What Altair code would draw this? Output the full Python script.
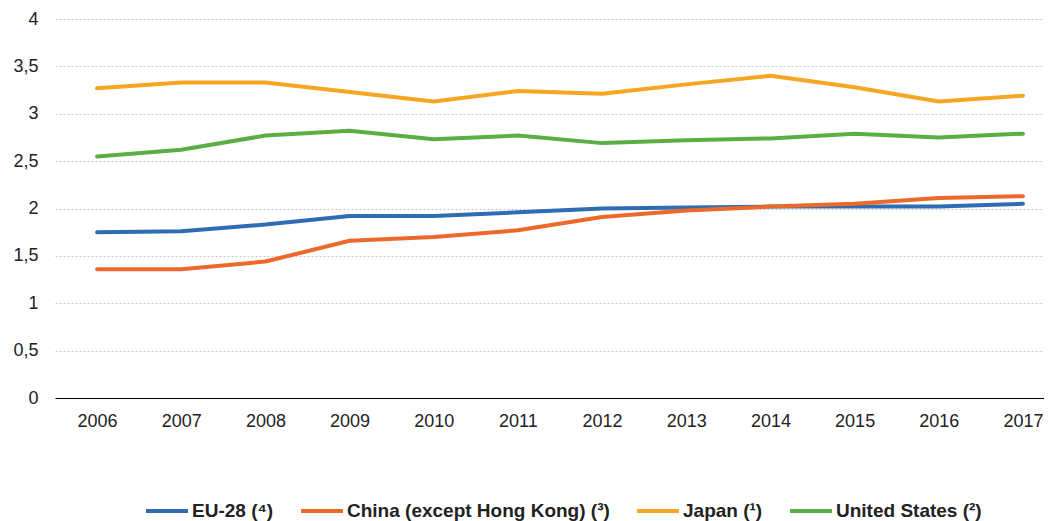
import altair as alt
import pandas as pd

years = list(range(2006, 2018))
series_names = ["EU-28 (⁴)", "China (except Hong Kong) (³)", "Japan (¹)", "United States (²)"]
eu28 = [1.75, 1.76, 1.83, 1.92, 1.92, 1.96, 2.00, 2.01, 2.02, 2.02, 2.02, 2.05]
china = [1.36, 1.36, 1.44, 1.66, 1.70, 1.77, 1.91, 1.98, 2.02, 2.05, 2.11, 2.13]
japan = [3.27, 3.33, 3.33, 3.23, 3.13, 3.24, 3.21, 3.31, 3.40, 3.28, 3.13, 3.19]
usa = [2.55, 2.62, 2.77, 2.82, 2.73, 2.77, 2.69, 2.72, 2.74, 2.79, 2.75, 2.79]
colors = ["#2E6CB4", "#EB6A2B", "#F6A623", "#5BAE44"]
y_ticks = [0, 0.5, 1, 1.5, 2, 2.5, 3, 3.5, 4]

rows = []
for name, vals in zip(series_names, [eu28, china, japan, usa]):
    for yr, v in zip(years, vals):
        rows.append({"year": yr, "value": v, "series": name})
df = pd.DataFrame(rows)

FONT = "Liberation Sans"

chart = alt.Chart(df).mark_line(strokeWidth=4, strokeCap="round", strokeJoin="round").encode(
    x=alt.X("year:Q",
            scale=alt.Scale(domain=[2005.5, 2017.25], nice=False, zero=False),
            axis=alt.Axis(values=years, format="d", title=None, grid=False, ticks=False,
                          domainColor="#000000", domainWidth=1, labelFontSize=18,
                          labelColor="#222222", labelPadding=14, labelFont=FONT)),
    y=alt.Y("value:Q",
            scale=alt.Scale(domain=[0, 4], nice=False),
            axis=alt.Axis(values=y_ticks, title=None, domain=False, ticks=False,
                          grid=True, gridColor="#c8c8c8", gridDash=[2, 2], gridWidth=1,
                          labelExpr="replace(toString(datum.value), '.', ',')",
                          labelFontSize=18, labelColor="#222222", labelPadding=17,
                          labelFont=FONT)),
    color=alt.Color("series:N",
                    scale=alt.Scale(domain=series_names, range=colors),
                    legend=alt.Legend(orient="none", legendX=89, legendY=469,
                                      direction="horizontal", columns=4, title=None,
                                      symbolType="stroke", symbolSize=1764,
                                      symbolStrokeWidth=4, labelFontSize=19,
                                      labelFontWeight="bold", labelFont=FONT,
                                      labelColor="#222222", labelOffset=2,
                                      columnPadding=19, labelLimit=400)),
    order=alt.Order("year:Q"),
).properties(
    width=989, height=379,
    autosize=alt.AutoSizeParams(type="none"),
    padding={"left": 47, "top": 11, "right": 0, "bottom": 123},
).configure_view(stroke=None)

chart.save("out.html", embed_options={"renderer": "svg", "actions": False})
